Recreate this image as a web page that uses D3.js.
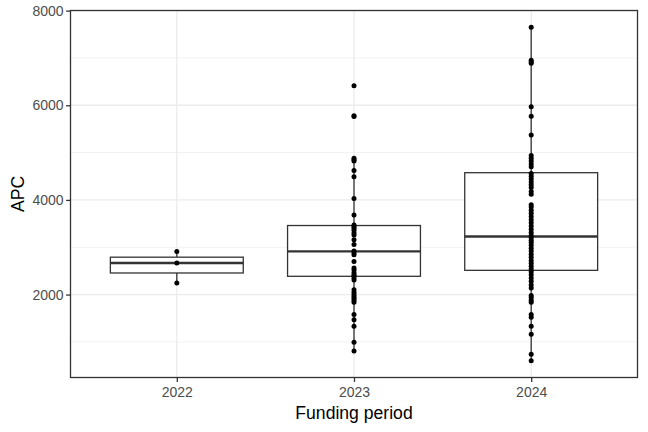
<!DOCTYPE html>
<html>
<head>
<meta charset="utf-8">
<script src="https://cdn.jsdelivr.net/npm/d3@7"></script>
<style>
  body { margin: 0; background: #fff; }
  svg { display: block; font-family: "Liberation Sans", Arial, Helvetica, sans-serif; }
</style>
</head>
<body>
<svg id="chart" width="648" height="432"></svg>
<script>
// ---- data ----
const categories = ["2022", "2023", "2024"];

const apc2022 = [2912, 2667, 2246];
const apc2023 = [6415, 5780, 5760, 4880, 4850, 4820, 4620, 4490, 4030, 3680,
  3470, 3440, 3400, 3360, 3300, 3260, 3160, 3060, 2920, 2880, 2840, 2700,
  2560, 2520, 2460, 2420, 2390, 2350, 2310, 2100, 2050, 2000, 1960, 1920,
  1880, 1840, 1580, 1470, 1330, 990, 810];
const apc2024 = [7650, 6950, 6920, 6890, 5970, 5770, 5370, 4940, 4880, 4820,
  4760, 4700, 4560, 4500, 4440, 4380, 4320, 4260, 4180, 4120, 3900, 3850,
  3780, 3720, 3650, 3580, 3520, 3450, 3380, 3310, 3250, 3200, 3150, 3100,
  3040, 2980, 2920, 2850, 2790, 2720, 2660, 2600, 2540, 2480, 2420, 2350,
  2280, 2200, 2140, 1980, 1940, 1880, 1840, 1580, 1520, 1330, 1160, 740, 600];

// box statistics: [lower whisker, Q1, median, Q3, upper whisker]
const box2022 = [2246, 2456, 2667, 2790, 2912];
const box2023 = [810, 2386, 2912, 3459, 4880];
const box2024 = [600, 2512, 3228, 4575, 7650];

const yTicks = [2000, 4000, 6000, 8000];
const yMinor = [1000, 3000, 5000, 7000];

const xTitle = "Funding period";
const yTitle = "APC";

// ---- layout ----
const W = 648, H = 432;
const panel = { left: 70.5, right: 637.5, top: 10.5, bottom: 377.5 };
const lw = 1.3;

const svg = d3.select("#chart");

const seriesValues = [apc2022, apc2023, apc2024];
const boxes = [box2022, box2023, box2024];

const allVals = seriesValues.flat();
const vmin = d3.min(allVals), vmax = d3.max(allVals);
const pad = (vmax - vmin) * 0.05;

const y = d3.scaleLinear()
  .domain([vmin - pad, vmax + pad])
  .range([panel.bottom, panel.top]);

// discrete x with ggplot expansion (0.6 units each side)
const xLin = d3.scaleLinear()
  .domain([1 - 0.6, categories.length + 0.6])
  .range([panel.left, panel.right]);
const x = d3.scalePoint().domain(categories).range([xLin(1), xLin(categories.length)]);
const boxW = (xLin(2) - xLin(1)) * 0.75;

// panel background
svg.append("rect")
  .attr("x", panel.left).attr("y", panel.top)
  .attr("width", panel.right - panel.left).attr("height", panel.bottom - panel.top)
  .attr("fill", "#fff");

// grid
const grid = svg.append("g");
grid.selectAll("line.minor").data(yMinor.filter(v => y(v) > panel.top && y(v) < panel.bottom))
  .join("line").attr("class", "minor")
  .attr("x1", panel.left).attr("x2", panel.right)
  .attr("y1", d => y(d)).attr("y2", d => y(d))
  .attr("stroke", "#ebebeb").attr("stroke-width", 0.65);
grid.selectAll("line.majorY").data(yTicks)
  .join("line").attr("class", "majorY")
  .attr("x1", panel.left).attr("x2", panel.right)
  .attr("y1", d => y(d)).attr("y2", d => y(d))
  .attr("stroke", "#ebebeb").attr("stroke-width", lw);
grid.selectAll("line.majorX").data(categories)
  .join("line").attr("class", "majorX")
  .attr("x1", d => x(d)).attr("x2", d => x(d))
  .attr("y1", panel.top).attr("y2", panel.bottom)
  .attr("stroke", "#ebebeb").attr("stroke-width", lw);

// boxplots
const bg = svg.append("g");
categories.forEach((c, i) => {
  const [lo, q1, med, q3, hi] = boxes[i];
  const cx = x(c);
  const g = bg.append("g");
  g.append("line").attr("x1", cx).attr("x2", cx).attr("y1", y(q3)).attr("y2", y(hi))
    .attr("stroke", "#333").attr("stroke-width", lw);
  g.append("line").attr("x1", cx).attr("x2", cx).attr("y1", y(q1)).attr("y2", y(lo))
    .attr("stroke", "#333").attr("stroke-width", lw);
  g.append("rect").attr("x", cx - boxW / 2).attr("y", y(q3))
    .attr("width", boxW).attr("height", y(q1) - y(q3))
    .attr("fill", "#fff").attr("stroke", "#333").attr("stroke-width", lw);
  g.append("line").attr("x1", cx - boxW / 2).attr("x2", cx + boxW / 2)
    .attr("y1", y(med)).attr("y2", y(med))
    .attr("stroke", "#333").attr("stroke-width", 2.4);
});

// points
const pg = svg.append("g");
categories.forEach((c, i) => {
  pg.selectAll(null).data(seriesValues[i]).join("circle")
    .attr("cx", x(c)).attr("cy", d => y(d)).attr("r", 2.5)
    .attr("fill", "#000");
});

// panel border
svg.append("rect")
  .attr("x", panel.left).attr("y", panel.top)
  .attr("width", panel.right - panel.left).attr("height", panel.bottom - panel.top)
  .attr("fill", "none").attr("stroke", "#333").attr("stroke-width", lw);

// axes
const yAxis = svg.append("g").attr("transform", `translate(${panel.left},0)`)
  .call(d3.axisLeft(y).tickValues(yTicks).tickSize(4.4).tickPadding(2.5).tickFormat(d3.format("d")));
const xAxis = svg.append("g").attr("transform", `translate(0,${panel.bottom})`)
  .call(d3.axisBottom(x).tickSize(4.4).tickPadding(5));
[yAxis, xAxis].forEach(a => {
  a.select(".domain").remove();
  a.selectAll(".tick line").attr("stroke", "#333").attr("stroke-width", lw);
  a.selectAll(".tick text").attr("fill", "#4d4d4d")
    .style("font-size", "14px").style("font-family", "'Liberation Sans', Arial, sans-serif");
});

// titles
svg.append("text")
  .attr("x", (panel.left + panel.right) / 2).attr("y", 418.5)
  .attr("text-anchor", "middle").attr("fill", "#000")
  .style("font-size", "17.6px").text(xTitle);
svg.append("text")
  .attr("transform", `translate(23.5,${(panel.top + panel.bottom) / 2}) rotate(-90)`)
  .attr("text-anchor", "middle").attr("fill", "#000")
  .style("font-size", "17.6px").text(yTitle);
</script>
</body>
</html>
